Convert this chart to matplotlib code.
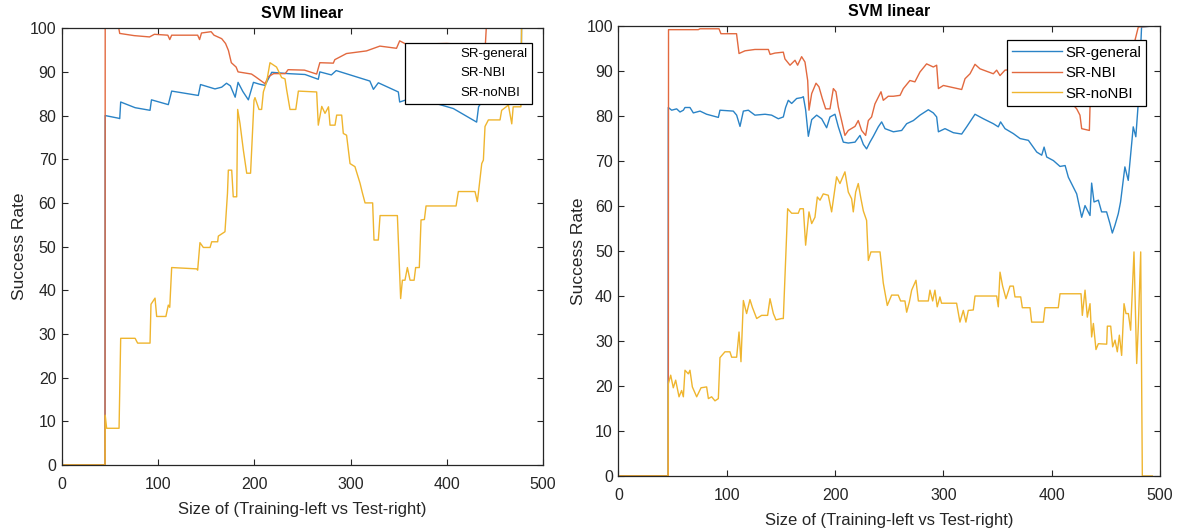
import numpy as np
import matplotlib
matplotlib.use("Agg")
import matplotlib.pyplot as plt

plt.rcParams['font.family'] = ['Liberation Sans', 'DejaVu Sans']

# ---- left panel data ----
left_gen_x = [0, 44.7, 44.9, 58.5, 60, 61, 76, 91.5, 93, 110.5, 114, 141.7, 144, 159, 166, 171, 175, 180, 183, 188,
              193.7, 199, 205, 211, 218, 235, 252.6, 266.4, 268, 280, 285, 320, 323.7, 328.8, 349.6, 351, 362, 385,
              406.8, 431, 433, 445, 460, 470, 477.5, 477.7, 497]
left_gen_y = [0, 0, 80, 79.4, 79.3, 83.1, 81.8, 81.2, 83.6, 82.5, 85.6, 84.6, 87.1, 86.1, 86.5, 87.4, 86.8, 84.2, 87.6, 85.5,
              83.6, 87.6, 87.2, 86.9, 89.9, 89.6, 89.4, 88.3, 90.0, 89.3, 90.3, 87.9, 86.0, 87.5, 85.4, 83.1, 83.9, 83,
              81.6, 78.5, 82, 86, 90, 92, 95, 100, 100]

left_nbi_x = [0, 44.7, 44.9, 59, 60, 75, 91, 96, 110, 112, 114, 141, 143, 145, 155, 158, 166, 170, 173, 176, 181, 183,
              197, 201, 211, 214.5, 220, 232, 235, 252, 264.7, 268, 282, 283.6, 295.7, 316.5, 330.4, 347.7, 351, 358,
              400, 440, 441, 497]
left_nbi_y = [0, 0, 100, 100, 98.8, 98.3, 98, 98.6, 98.4, 97.4, 98.4, 98.4, 97.4, 98.9, 99.2, 98.4, 97.6, 96.5, 94.9, 92.1,
              91.1, 90, 89.5, 88.9, 87.3, 88.9, 89.6, 89.6, 90.5, 90.4, 89.5, 92.1, 92, 92.8, 94.2, 94.8, 95.9, 95.4,
              97.1, 96.3, 96.5, 96, 100, 100]

left_non_x = [0, 44.7, 44.9, 46.4, 59.3, 61, 76, 78.6, 91.5, 92.5, 96.7, 98.4, 108, 110.5, 112, 114, 140, 141, 143.4,
              146.9, 153.9, 155.6, 161.8, 162.5, 169.4, 172, 172.9, 176.4, 178, 181.6, 182.6, 185, 188.5, 192, 196,
              199.6, 200.6, 204.8, 207.5, 209.3, 212.7, 216.2, 223, 228.3, 231.8, 233.5, 237, 243, 245.7, 264.7,
              266.4, 270, 273.4, 277, 278.6, 283.8, 285.5, 290.7, 292.4, 295.8, 299.4, 304.5, 309.8, 312, 315, 322.9,
              324.3, 328.8, 330.6, 348.6, 352, 353.8, 356.5, 359, 361.8, 366, 367.6, 371.4, 373.2, 376.7, 378.4,
              409.6, 412, 429.3, 431.7, 432.8, 436.3, 438, 439.7, 443.2, 455.3, 457, 464, 467.5, 469, 477, 477.7, 497]
left_non_y = [0, 0, 11.4, 8.4, 8.4, 29, 29, 27.9, 27.9, 36.8, 38.2, 34, 34, 36.6, 36.1, 45.2, 44.9, 44.6, 50.9,
              49.8, 49.8, 51.1, 51.1, 52.4, 53.4, 62.2, 67.5, 67.5, 61.4, 61.4, 81.4, 78.2, 72.1, 66.8, 66.8,
              83.5, 84.1, 81.4, 81.4, 85.4, 87.7, 92.1, 91.1, 88.7, 88.4, 85.9, 81.4, 81.4, 85.6, 85.4,
              77.8, 82.1, 80.5, 82, 77.8, 77.8, 80.1, 80.1, 75.9, 75.5, 69, 68.3, 64.5, 62.5, 60, 60,
              51.5, 51.5, 57.1, 57.1, 38.1, 42.3, 42.3, 45.2, 42.3, 42.3, 45.2, 45.2, 56.1, 56.2, 59.3,
              59.3, 62.6, 62.6, 60.3, 62.2, 69, 69.8, 77.5, 79, 79, 81.2, 82.4, 78.1, 82, 82, 100, 100]

# ---- right panel data ----
right_gen_x = [0, 45.8, 46, 49.1, 53.7, 56.8, 59.9, 61.4, 66, 69.1, 75.3, 81.4, 92.2, 93.7, 106, 109.1, 112.2, 115.3,
               119.9, 126, 135.3, 141.4, 147.6, 152.2, 154.3, 156.8, 159.9, 164.5, 169.1, 170.7, 172.8, 175.3, 178.4,
               183, 187.6, 192.2, 195.3, 199.9, 203, 207.6, 212.2, 218.4, 223, 226.1, 229.1, 232.2, 235.3, 239.9,
               243, 246.1, 253.8, 261.5, 266.1, 272.3, 278.4, 286.1, 290.7, 293.8, 295.4, 301.5, 309.2, 316.9,
               321.5, 329.2, 336.9, 346.1, 350.7, 352.8, 356.9, 364.6, 370.8, 378.5, 386.2, 390.8, 393, 395.4,
               401.6, 407.7, 412.4, 415.4, 423.1, 427.7, 430.8, 435.4, 436.9, 439.1, 443.1, 446.1, 450.7, 453.8,
               456, 458.4, 461.5, 463.6, 467.6, 470.7, 475.3, 477.7, 479.9, 483, 493]
right_gen_y = [0, 0, 81.9, 81.3, 81.6, 80.9, 81.3, 81.9, 81.9, 80.7, 81.1, 80.4, 79.7, 81.3, 81.1, 80.2, 77.7, 81.1,
               81.3, 80.2, 80.4, 80.2, 79.4, 79.8, 81.9, 83.5, 82.8, 83.9, 84.1, 84.3, 81.4, 75.5, 79.2,
               80.2, 79.4, 77.4, 79.8, 80.4, 77.6, 74.2, 74.0, 74.2, 75.7, 73.7, 72.7, 74.2, 75.5, 77.6,
               78.7, 77.2, 76.5, 76.8, 78.3, 79.0, 80.2, 81.4, 80.7, 79.8, 76.5, 77.2, 76.3, 76.0,
               77.6, 80.4, 79.4, 78.3, 77.6, 78.7, 77.2, 76.1, 75.0, 74.6, 72.0, 71.3, 73.1, 70.9,
               70.1, 68.8, 69.0, 66.4, 62.7, 57.5, 60.1, 57.9, 65.1, 60.9, 61.3, 58.7, 58.7, 56.1,
               54.0, 55.7, 58.3, 60.9, 68.7, 65.7, 77.6, 75.4, 82.7, 99.8, 100]

right_nbi_x = [0, 46, 46.2, 73.7, 75.3, 92.8, 94.6, 109, 111.3, 116.8, 126, 138.4, 140, 144.5, 152.2, 153.7, 158.4,
               163, 165.4, 169.1, 172.2, 174.7, 175.9, 178.4, 182.4, 185.1, 188.2, 191.3, 195.3, 198.4, 200.8, 203,
               206, 209.1, 212.2, 218.4, 221.4, 224.5, 228.2, 230.7, 233.7, 236.8, 242.4, 244.5, 249.1, 253.8, 260,
               263, 269.1, 273.7, 278.4, 284.5, 290.7, 293.8, 295.4, 300, 316.9, 320, 324.6, 329.2, 333.8, 346.1,
               349.2, 352.3, 356.9, 370, 385, 400, 412, 418, 423.1, 426.1, 427.7, 434.8, 435.4, 450, 465, 475, 480,
               493]
right_nbi_y = [0, 0, 99.2, 99.2, 99.4, 99.4, 98.3, 98.3, 93.9, 94.5, 94.8, 94.8, 93.7, 94.0, 94.2, 92.7, 91.3,
               92.4, 91.3, 93.2, 92.0, 87.9, 81.3, 85.0, 87.3, 86.5, 83.9, 81.6, 81.6, 86.1, 85.4, 82.0,
               79.0, 75.7, 76.8, 77.7, 79.0, 76.8, 75.7, 79.0, 79.8, 82.7, 85.4, 83.5, 84.4, 84.4, 84.6,
               86.1, 87.9, 87.6, 89.8, 91.6, 90.9, 91.3, 86.1, 86.8, 85.9, 88.3, 89.4, 91.5, 90.5, 89.4,
               90.2, 89.0, 90.2, 90.5, 89, 88, 86, 83, 81.6, 80.2, 77.2, 76.8, 82, 86, 90, 95, 99.8,
               100]

right_non_x = [0, 45.8, 46, 48.2, 50.6, 52.8, 55.9, 58.3, 59.9, 61.4, 64.5, 66, 68.2, 72.2, 76.2, 81.4, 83, 86, 89.1,
               92.2, 93.7, 98.3, 102.9, 104.5, 109.1, 111.3, 113.1, 115.3, 118.3, 121.4, 123.6, 127.6, 132.2, 137.7,
               139.9, 143, 145.4, 150.6, 152.2, 156.2, 159.9, 166, 167.6, 170.7, 172.8, 175.9, 178.4, 181.4, 183.6,
               186.1, 189.1, 193.7, 196.8, 201.4, 204.5, 209.1, 212.2, 215.3, 216.8, 219, 221.4, 223.9, 226.1,
               229.1, 230.7, 233.1, 241.5, 244.5, 248.2, 252.2, 258.3, 260.5, 264.5, 266.1, 268.6, 270.7, 274.7,
               276.9, 286.1, 287.6, 290.1, 292.2, 294.3, 296.8, 298.3, 312.2, 315.3, 318.4, 320.8, 323, 327.6,
               329.2, 349.2, 350.7, 352.3, 354.7, 357.8, 361.5, 364.6, 366.1, 371.4, 372.9, 380, 381.5, 392.3,
               393.8, 406.1, 407.7, 427.1, 428.3, 430.8, 432.9, 435.4, 436.9, 438.5, 440.9, 443.1, 450.8, 451.4,
               454.5, 456.3, 458.5, 460.6, 462.5, 464.6, 466.8, 468.6, 470.8, 472.9, 476, 478.5, 480, 482.2, 483.7,
               493]
right_non_y = [0, 0, 20.5, 22.4, 19.6, 21.3, 17.6, 19.0, 17.6, 23.5, 22.7, 23.5, 19.8, 17.6, 19.6, 19.8, 17.2, 17.6, 16.7,
               17.2, 26.3, 27.6, 27.6, 26.4, 26.4, 32.0, 25.4, 39.0, 36.1, 39.2, 37.5, 35.0, 35.7, 35.7,
               39.4, 36.1, 34.7, 35.0, 35.0, 59.4, 58.4, 58.4, 59.4, 59.4, 51.3, 58.7, 56.1, 57.5, 62.0,
               61.3, 62.7, 62.4, 58.7, 66.5, 65.0, 67.6, 63.1, 61.6, 58.7, 63.1, 65.0, 61.6, 58.9,
               56.8, 47.9, 49.8, 49.8, 42.9, 37.9, 40.2, 40.2, 38.9, 38.9, 36.4, 38.7, 41.3, 43.5,
               38.9, 38.9, 41.3, 38.9, 41.3, 37.6, 39.8, 38.4, 38.4, 34.2, 36.8, 34.2, 36.8, 36.9,
               40.0, 40.0, 37.6, 45.3, 42.2, 39.4, 42.2, 42.2, 39.8, 39.8, 37.4, 37.4, 34.2, 34.2,
               37.4, 37.4, 40.5, 40.5, 35.7, 41.3, 35.3, 38.3, 30.9, 33.9, 28.1, 29.4, 29.3, 33.3,
               33.3, 28.7, 30.2, 27.6, 31.3, 26.8, 38.3, 36.1, 36.1, 32.4, 49.8, 25.0, 33.3, 49.8, 0,
               0]

labels = ['SR-general', 'SR-NBI', 'SR-noNBI']
colors = ['#2a83c6', '#e2693f', '#efb52e']
ink = '#262626'

fig = plt.figure(figsize=(11.81, 5.32), dpi=100)
ax1 = fig.add_axes([0.0525, 0.126, 0.4073, 0.821])
ax2 = fig.add_axes([0.5237, 0.1053, 0.4585, 0.8457])

panels = [
    (ax1, [(left_gen_x, left_gen_y), (left_nbi_x, left_nbi_y), (left_non_x, left_non_y)], 7.5, 2),
    (ax2, [(right_gen_x, right_gen_y), (right_nbi_x, right_nbi_y), (right_non_x, right_non_y)], 7, 0),
]

for ax, series, tpad, ypad in panels:
    for (xs, ys), lab, col in zip(series, labels, colors):
        ax.plot(xs, ys, color=col, lw=1.0, label=lab)
    ax.set_xlim(0, 500)
    ax.set_ylim(0, 100)
    ax.set_xticks(np.arange(0, 501, 100))
    ax.set_yticks(np.arange(0, 101, 10))
    ax.tick_params(direction='in', top=True, right=True, length=4, width=0.8,
                   labelsize=11.5, colors=ink)
    ax.tick_params(axis='x', pad=9)
    ax.tick_params(axis='y', pad=4)
    for sp in ax.spines.values():
        sp.set_color(ink)
        sp.set_linewidth(0.9)
    ax.set_title('SVM linear', fontsize=11.5, fontweight='bold', color='black', pad=tpad)
    ax.set_xlabel('Size of (Training-left vs Test-right)', fontsize=12, color=ink, labelpad=7)
    ax.set_ylabel('Success Rate', fontsize=12.5, color=ink, labelpad=ypad)

# left legend shows only the names (no line samples)
leg1 = ax1.legend(loc='upper right', bbox_to_anchor=(0.977, 0.966), borderaxespad=0,
                  fancybox=False, framealpha=1, edgecolor='black', fontsize=9.5,
                  handlelength=3.6, handletextpad=0.25, borderpad=0.35, labelspacing=0.55)
leg1.get_frame().set_linewidth(0.9)
for ln in leg1.get_lines():
    ln.set_visible(False)

leg2 = ax2.legend(loc='upper right', bbox_to_anchor=(0.975, 0.968), borderaxespad=0,
                  fancybox=False, framealpha=1, edgecolor='black', fontsize=10.8,
                  handlelength=3.3, handletextpad=0.25, borderpad=0.35, labelspacing=0.43)
leg2.get_frame().set_linewidth(0.9)

fig.savefig('out.png', dpi=100)
